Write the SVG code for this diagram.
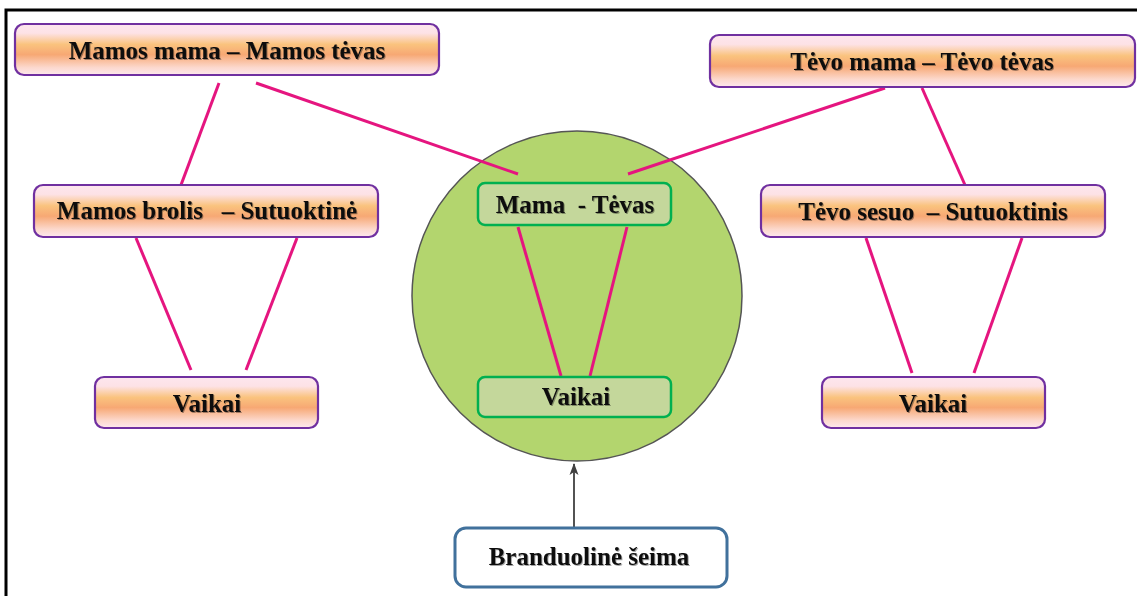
<svg xmlns="http://www.w3.org/2000/svg" width="1137" height="596" viewBox="0 0 1137 596">
<defs>
<linearGradient id="peach" x1="0" y1="0" x2="0" y2="1">
<stop offset="0" stop-color="#fde6ee"/>
<stop offset="0.18" stop-color="#fde2e6"/>
<stop offset="0.4" stop-color="#fac37e"/>
<stop offset="0.6" stop-color="#f7a874"/>
<stop offset="0.85" stop-color="#fcd8cc"/>
<stop offset="1" stop-color="#fde8ee"/>
</linearGradient>
<filter id="ts" x="-5%" y="-20%" width="110%" height="140%">
<feDropShadow dx="1" dy="1" stdDeviation="0.6" flood-color="#000" flood-opacity="0.35"/>
</filter>
<marker id="arr" markerWidth="12" markerHeight="12" refX="11" refY="6" orient="auto" markerUnits="userSpaceOnUse">
<path d="M0,1.5 L12,6 L0,10.5 L3,6 Z" fill="#404040"/>
</marker>
<style>
.pb{fill:url(#peach);stroke:#7030a0;stroke-width:2.2}
.gb{fill:#c4d79b;stroke:#00b050;stroke-width:2.5}
.t{font-family:"Liberation Serif","Times New Roman",serif;font-weight:bold;font-size:25px;fill:#111;text-anchor:middle;white-space:pre;filter:url(#ts)}
.pk{stroke:#e5157f;stroke-width:3;fill:none;stroke-linecap:butt}
</style>
</defs>
<rect x="0" y="0" width="1137" height="596" fill="#fff"/>
<path d="M6,596 V10 H1137" fill="none" stroke="#000" stroke-width="3"/>

<g id="nucleus-circle">
<circle cx="577" cy="296" r="165" fill="#b3d56e" stroke="#555" stroke-width="1.5"/>
</g>

<g id="connectors">
<line class="pk" x1="219" y1="83" x2="181" y2="185"/>
<line class="pk" x1="256" y1="83" x2="518" y2="174"/>
<line class="pk" x1="885" y1="88" x2="628" y2="174"/>
<line class="pk" x1="922" y1="88" x2="965" y2="185"/>
<line class="pk" x1="136" y1="238" x2="191" y2="370"/>
<line class="pk" x1="297" y1="238" x2="246" y2="370"/>
<line class="pk" x1="866" y1="238" x2="912" y2="373"/>
<line class="pk" x1="1022" y1="238" x2="974" y2="373"/>
<line class="pk" x1="518" y1="227" x2="561" y2="376"/>
<line class="pk" x1="627" y1="227" x2="590" y2="376"/>
<line x1="574" y1="528" x2="574" y2="464" stroke="#404040" stroke-width="1.8" marker-end="url(#arr)"/>
</g>

<g id="mamos-tevai">
<rect class="pb" x="15" y="24" width="424" height="51" rx="9"/>
<text class="t" x="227" y="59">Mamos mama – Mamos tėvas</text>
</g>
<g id="tevo-tevai">
<rect class="pb" x="710" y="35" width="425" height="52" rx="9"/>
<text class="t" x="922" y="70">Tėvo mama – Tėvo tėvas</text>
</g>
<g id="mamos-brolis">
<rect class="pb" x="34" y="185" width="344" height="52" rx="9"/>
<text class="t" x="207" y="219">Mamos brolis   – Sutuoktinė</text>
</g>
<g id="tevo-sesuo">
<rect class="pb" x="761" y="185" width="344" height="52" rx="9"/>
<text class="t" x="933" y="220">Tėvo sesuo  – Sutuoktinis</text>
</g>
<g id="vaikai-kaire">
<rect class="pb" x="95" y="377" width="223" height="51" rx="9"/>
<text class="t" x="207" y="412">Vaikai</text>
</g>
<g id="vaikai-desine">
<rect class="pb" x="822" y="377" width="223" height="51" rx="9"/>
<text class="t" x="933" y="412">Vaikai</text>
</g>
<g id="mama-tevas">
<rect class="gb" x="478" y="183" width="193" height="42" rx="7"/>
<text class="t" x="575" y="213">Mama  - Tėvas</text>
</g>
<g id="vaikai-centras">
<rect class="gb" x="478" y="377" width="193" height="40" rx="7"/>
<text class="t" x="576" y="405">Vaikai</text>
</g>
<g id="branduoline-seima">
<rect x="455" y="528" width="272" height="59" rx="11" fill="#fff" stroke="#41719c" stroke-width="3"/>
<text class="t" x="589" y="565">Branduolinė šeima</text>
</g>
</svg>
